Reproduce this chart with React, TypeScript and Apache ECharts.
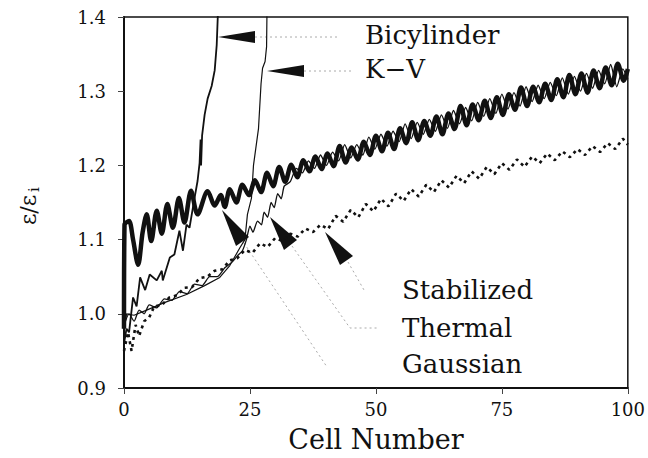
import React, { useEffect, useRef } from "react";
import * as echarts from "echarts";

// ---- Tick labels ----
const xTicks = [0, 25, 50, 75, 100];
const yTicks = [0.9, 1.0, 1.1, 1.2, 1.3, 1.4];

// ---- Series names ----
const seriesNames = ["Bicylinder", "K\u2212V", "Stabilized", "Thermal", "Gaussian"];

// ---- Gaussian (thick oscillating band) ----
const gaussianCells = [0, 0.1, 1.0, 1.8, 2.8, 3.7, 4.5, 5.4, 6.5, 7.5, 8.6, 9.7, 10.9, 12.0, 13.3, 14.6, 16.6, 18.0, 19.2, 20.0, 21.0, 22.3, 23.5, 24.8, 26.0, 27.2, 28.4, 29.6, 30.8, 32.0, 33.2, 34.4, 35.6, 36.8, 38.0, 39.2, 40.4, 41.6, 42.8, 44.0, 45.2, 46.4, 47.6, 48.8, 50.0, 51.2, 52.4, 53.6, 54.8, 56.0, 57.2, 58.4, 59.6, 60.8, 62.0, 63.2, 64.4, 65.6, 66.8, 68.0, 69.2, 70.4, 71.6, 72.8, 74.0, 75.2, 76.4, 77.6, 78.8, 80.0, 81.2, 82.4, 83.6, 84.8, 86.0, 87.2, 88.4, 89.6, 90.8, 92.0, 93.2, 94.4, 95.6, 96.8, 98.0, 99.2, 100];
const gaussianVals = [0.98, 1.12, 1.125, 1.10, 1.066, 1.11, 1.134, 1.098, 1.139, 1.108, 1.148, 1.116, 1.156, 1.123, 1.166, 1.134, 1.165, 1.146, 1.16, 1.144, 1.168, 1.150, 1.174, 1.160, 1.180, 1.164, 1.190, 1.172, 1.198, 1.178, 1.201, 1.184, 1.207, 1.192, 1.212, 1.195, 1.216, 1.199, 1.226, 1.204, 1.224, 1.208, 1.232, 1.214, 1.240, 1.219, 1.244, 1.222, 1.250, 1.230, 1.258, 1.234, 1.260, 1.240, 1.266, 1.242, 1.270, 1.249, 1.280, 1.254, 1.282, 1.261, 1.287, 1.264, 1.292, 1.268, 1.296, 1.275, 1.305, 1.280, 1.306, 1.285, 1.310, 1.288, 1.316, 1.292, 1.322, 1.296, 1.324, 1.298, 1.328, 1.304, 1.332, 1.308, 1.337, 1.314, 1.33];

// ---- Thermal (thin line, joins the Gaussian band) ----
const thermalCells = [0, 1, 2, 3, 4, 5, 6.5, 8, 9.5, 11, 12.5, 14, 15.5, 17, 18.5, 20, 21.5, 22.5, 23.5, 24.3, 25, 25.6, 26.5, 27.3, 27.8, 28.5, 29.2, 29.8, 30.5, 31.2, 31.8, 33, 34.2, 35.4, 36.6, 37.8, 39, 40.2, 41.4, 42.6, 43.8, 45, 46.2, 47.4, 48.6, 49.8, 51, 52.2, 53.4, 54.6, 55.8, 57, 58.2, 59.4, 60.6, 61.8, 63, 64.2, 65.4, 66.6, 67.8, 69, 70.2, 71.4, 72.6, 73.8, 75, 76.2, 77.4, 78.6, 79.8, 81, 82.2, 83.4, 84.6, 85.8, 87, 88.2, 89.4, 90.6, 91.8, 93, 94.2, 95.4, 96.6, 97.8, 99, 100];
const thermalVals = [0.985, 1.0, 0.99, 1.005, 1.0, 1.012, 1.008, 1.02, 1.018, 1.03, 1.027, 1.04, 1.038, 1.05, 1.05, 1.062, 1.07, 1.078, 1.085, 1.1, 1.118, 1.11, 1.125, 1.12, 1.137, 1.13, 1.15, 1.143, 1.162, 1.155, 1.172, 1.178, 1.196, 1.19, 1.206, 1.196, 1.214, 1.2, 1.218, 1.206, 1.228, 1.21, 1.228, 1.214, 1.238, 1.222, 1.242, 1.226, 1.246, 1.232, 1.256, 1.236, 1.258, 1.242, 1.262, 1.246, 1.268, 1.25, 1.274, 1.256, 1.278, 1.26, 1.285, 1.266, 1.29, 1.27, 1.296, 1.276, 1.298, 1.28, 1.306, 1.286, 1.308, 1.29, 1.312, 1.294, 1.318, 1.296, 1.32, 1.3, 1.324, 1.304, 1.328, 1.31, 1.336, 1.306, 1.33, 1.316];

// ---- Stabilized (dotted, lowest growth) ----
const stabilizedCells = [0, 0.8, 1.5, 2.3, 3, 4, 5, 6, 7.5, 9, 10.5, 12, 13.5, 15, 16.5, 18, 19.5, 21, 22.5, 24, 25.5, 27, 28.5, 30, 31.5, 33, 34.5, 36, 37.5, 39, 40.5, 42, 43.5, 45, 46.5, 48, 49.5, 51, 52.5, 54, 55.5, 57, 58.5, 60, 61.5, 63, 64.5, 66, 67.5, 69, 70.5, 72, 73.5, 75, 76.5, 78, 79.5, 81, 82.5, 84, 85.5, 87, 88.5, 90, 91.5, 93, 94.5, 96, 97.5, 99, 100];
const stabilizedVals = [0.95, 0.975, 0.95, 0.985, 0.97, 0.99, 0.995, 1.01, 1.012, 1.022, 1.025, 1.035, 1.036, 1.048, 1.05, 1.058, 1.06, 1.072, 1.075, 1.086, 1.082, 1.095, 1.09, 1.102, 1.098, 1.108, 1.104, 1.115, 1.11, 1.12, 1.114, 1.132, 1.124, 1.14, 1.13, 1.148, 1.138, 1.155, 1.145, 1.162, 1.152, 1.168, 1.158, 1.174, 1.164, 1.18, 1.17, 1.186, 1.176, 1.192, 1.182, 1.198, 1.188, 1.203, 1.194, 1.208, 1.198, 1.212, 1.203, 1.216, 1.207, 1.219, 1.211, 1.222, 1.214, 1.226, 1.218, 1.23, 1.222, 1.236, 1.228];

// ---- K-V (thin, blows up near cell 27) ----
const kvCells = [0, 0.5, 2, 4.5, 8, 12.4, 16, 19, 21, 23, 24, 24.5, 25.3, 25.7, 26.3, 26.7, 27.2, 27.5, 28, 28.3, 28.4];
const kvVals = [0.975, 1.0, 0.998, 1.005, 1.015, 1.026, 1.038, 1.049, 1.065, 1.089, 1.1, 1.134, 1.156, 1.2, 1.23, 1.25, 1.31, 1.331, 1.34, 1.36, 1.42];

// ---- Bicylinder (blows up near cell 18) ----
const biCells = [0, 0.5, 1, 1.8, 2.5, 3.2, 4.2, 5.1, 6.5, 7.5, 7.7, 9.1, 10, 11, 11.7, 12.4, 13, 14, 14.6, 15, 15.2, 15.3, 15.5, 16, 16.6, 17.4, 18, 18.4, 18.6, 18.7];
const biVals = [0.96, 0.98, 0.975, 1.022, 1.01, 1.049, 1.032, 1.053, 1.045, 1.058, 1.045, 1.076, 1.08, 1.112, 1.085, 1.12, 1.116, 1.156, 1.179, 1.203, 1.235, 1.2, 1.24, 1.268, 1.29, 1.307, 1.328, 1.362, 1.398, 1.42];

const zip = (xs: number[], ys: number[]) => xs.map((x, i) => [x, ys[i]]);

const SERIF = "'DejaVu Serif', 'Liberation Serif', serif";

export default function App() {
  const ref = useRef<HTMLDivElement>(null);
  useEffect(() => {
    if (!ref.current) return;
    const chart = echarts.init(ref.current, undefined, { renderer: "svg" });
    const leader = { stroke: "#aaa", lineWidth: 1, lineDash: [2, 3] };
    const label = (text: string, x: number, y: number) => ({
      type: "text",
      x,
      y,
      style: { text, font: `26px ${SERIF}`, fill: "#111", verticalAlign: "middle", align: "left" },
    });
    chart.setOption({
      animation: false,
      backgroundColor: "#fff",
      grid: { left: 124, right: 18, top: 17, bottom: 67, show: true, borderColor: "#111", borderWidth: 1.5 },
      xAxis: {
        type: "value",
        min: 0,
        max: 100,
        interval: 25,
        name: "Cell Number",
        nameLocation: "middle",
        nameGap: 38,
        nameTextStyle: { fontFamily: SERIF, fontSize: 27, color: "#111" },
        axisLine: { show: true, onZero: false, lineStyle: { color: "#111", width: 2 } },
        axisTick: { show: true, inside: false, length: 6, lineStyle: { color: "#444" } },
        axisLabel: { fontFamily: SERIF, fontSize: 18, color: "#111", margin: 12, formatter: (v: number) => (xTicks.includes(v) ? String(v) : "") },
        splitLine: { show: false },
      },
      yAxis: {
        type: "value",
        min: 0.9,
        max: 1.4,
        interval: 0.1,
        axisLine: { show: true, onZero: false, lineStyle: { color: "#111", width: 2 } },
        axisTick: { show: true, inside: false, length: 6, lineStyle: { color: "#444" } },
        axisLabel: {
          fontFamily: SERIF,
          fontSize: 18,
          color: "#111",
          margin: 18,
          formatter: (v: number) => {
            const t = yTicks.find((y) => Math.abs(y - v) < 1e-6);
            return t === undefined ? "" : t.toFixed(1);
          },
        },
        splitLine: { show: false },
      },
      series: [
        {
          name: seriesNames[0],
          type: "line",
          data: zip(biCells, biVals),
          showSymbol: false,
          lineStyle: { color: "#111", width: 1.8 },
        },
        {
          name: seriesNames[1],
          type: "line",
          data: zip(kvCells, kvVals),
          showSymbol: false,
          lineStyle: { color: "#111", width: 1.2 },
        },
        {
          name: seriesNames[2],
          type: "line",
          data: zip(stabilizedCells, stabilizedVals),
          showSymbol: false,
          lineStyle: { color: "#111", width: 2.6, type: [3, 4] },
        },
        {
          name: seriesNames[3],
          type: "line",
          data: zip(thermalCells, thermalVals),
          showSymbol: false,
          smooth: 0.2,
          lineStyle: { color: "#111", width: 1.3 },
        },
        {
          name: seriesNames[4],
          type: "line",
          data: zip(gaussianCells, gaussianVals),
          showSymbol: false,
          smooth: 0.3,
          lineStyle: { color: "#111", width: 4.5 },
        },
      ],
      graphic: [
        // Bicylinder arrow
        { type: "polygon", shape: { points: [[218, 37], [255, 31], [255, 43]] }, style: { fill: "#111" } },
        { type: "polyline", shape: { points: [[255, 37], [340, 37]] }, style: leader },
        label("Bicylinder", 365, 35),
        // K-V arrow
        { type: "polygon", shape: { points: [[267, 71], [304, 65], [304, 77]] }, style: { fill: "#111" } },
        { type: "polyline", shape: { points: [[304, 71], [352, 71]] }, style: leader },
        label("K\u2212V", 365, 69),
        // Gaussian arrow
        { type: "polygon", shape: { points: [[222, 210], [236, 246], [249, 237]] }, style: { fill: "#111" } },
        { type: "polyline", shape: { points: [[244, 243], [327, 367]] }, style: leader },
        // Thermal arrow
        { type: "polygon", shape: { points: [[270, 217], [284, 250], [297, 240]] }, style: { fill: "#111" } },
        { type: "polyline", shape: { points: [[292, 246], [350, 328], [378, 328]] }, style: leader },
        // Stabilized arrow
        { type: "polygon", shape: { points: [[325, 232], [340, 265], [353, 256]] }, style: { fill: "#111" } },
        { type: "polyline", shape: { points: [[348, 262], [364, 290]] }, style: leader },
        label("Stabilized", 402, 290),
        label("Thermal", 402, 328),
        label("Gaussian", 402, 364),
        // y-axis label  ε/ε_i  (rotated)
        {
          type: "group",
          x: 28,
          y: 208,
          rotation: Math.PI / 2,
          children: [
            { type: "text", x: -2, y: 0, style: { text: "\u03b5/\u03b5", font: `22px ${SERIF}`, fill: "#111", align: "center", verticalAlign: "middle" } },
            { type: "text", x: 16, y: 6, style: { text: "i", font: `15px ${SERIF}`, fill: "#111", align: "left", verticalAlign: "middle" } },
          ],
        },
      ],
    });
    return () => chart.dispose();
  }, []);
  return <div ref={ref} style={{ position: "fixed", left: 0, top: 0, width: 648, height: 458 }} />;
}
